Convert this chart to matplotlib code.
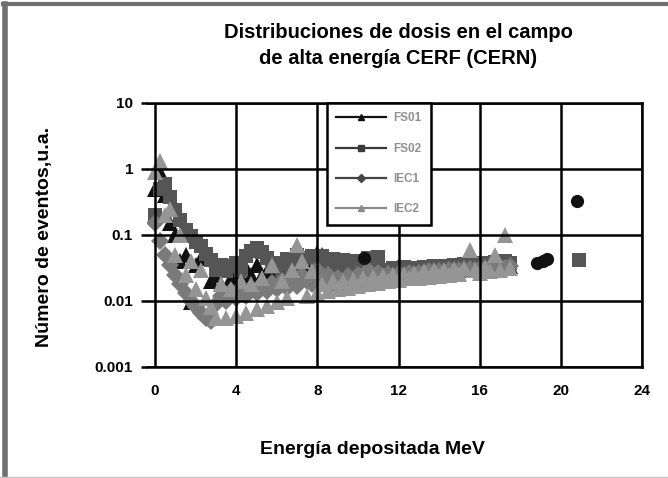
import matplotlib
matplotlib.use('Agg')
import matplotlib.pyplot as plt
from matplotlib.lines import Line2D

# Energía (MeV), común a las cuatro series; 4 valores por fila (n, n+.25, n+.5, n+.75)
energia = [0, 0.25, 0.5, 0.75, 1, 1.25, 1.5, 1.75, 2, 2.25, 2.5, 2.75, 3, 3.25, 3.5, 3.75,
           4, 4.25, 4.5, 4.75, 5, 5.25, 5.5, 5.75, 6, 6.25, 6.5, 6.75, 7, 7.25, 7.5, 7.75,
           8, 8.25, 8.5, 8.75, 9, 9.25, 9.5, 9.75, 10, 10.25, 10.5, 10.75, 11, 11.25, 11.5, 11.75,
           12, 12.25, 12.5, 12.75, 13, 13.25, 13.5, 13.75, 14, 14.25, 14.5, 14.75, 15, 15.25, 15.5, 15.75,
           16, 16.25, 16.5, 16.75, 17, 17.25, 17.5]

fs01 = [0.5, 0.9, 0.4, 0.15,
        0.1, 0.04, 0.05, 0.0095,
        0.035, 0.045, 0.058, 0.02,
        0.025, 0.018, 0.03, 0.022,
        0.028, 0.022, 0.032, 0.025,
        0.035, 0.025, 0.028, 0.022,
        0.025, 0.03, 0.028, 0.024,
        0.035, 0.03, 0.035, 0.045,
        0.054, 0.05, 0.03, 0.028,
        0.025, 0.03, 0.026, 0.028,
        0.025, 0.027, 0.026, 0.028,
        0.027, 0.026, 0.027, 0.028,
        0.027, 0.028, 0.027, 0.029,
        0.028, 0.029, 0.03, 0.029,
        0.03, 0.031, 0.03, 0.031,
        0.032, 0.031, 0.032, 0.033,
        0.032, 0.033, 0.034, 0.033,
        0.034, 0.035, 0.034]

fs02 = [0.2, 0.5, 0.6, 0.38,
        0.24, 0.17, 0.12, 0.095,
        0.078, 0.068, 0.052, 0.042,
        0.03, 0.035, 0.028, 0.034,
        0.037, 0.03, 0.048, 0.058,
        0.063, 0.055, 0.045, 0.033,
        0.038, 0.03, 0.043, 0.035,
        0.05, 0.04, 0.045, 0.048,
        0.04, 0.048, 0.035, 0.043,
        0.032, 0.042, 0.03, 0.041,
        0.03, 0.035, 0.045, 0.03,
        0.047, 0.03, 0.028, 0.032,
        0.026, 0.033, 0.027, 0.032,
        0.028, 0.033, 0.029, 0.034,
        0.03, 0.034, 0.031, 0.035,
        0.032, 0.036, 0.033, 0.037,
        0.034, 0.038, 0.035, 0.039,
        0.036, 0.04, 0.038]

iec1 = [0.15, 0.08, 0.05, 0.035,
        0.025, 0.018, 0.013, 0.01,
        0.008, 0.0065, 0.0055, 0.005,
        0.009, 0.012, 0.01, 0.014,
        0.011, 0.015, 0.012, 0.016,
        0.013, 0.018, 0.014, 0.019,
        0.015, 0.02, 0.016, 0.021,
        0.017, 0.025, 0.02, 0.018,
        0.03, 0.02, 0.025, 0.019,
        0.022, 0.019, 0.024, 0.02,
        0.025, 0.021, 0.03, 0.022,
        0.027, 0.023, 0.026, 0.024,
        0.026, 0.024, 0.027, 0.025,
        0.027, 0.025, 0.028, 0.026,
        0.028, 0.027, 0.029, 0.028,
        0.03, 0.028, 0.031, 0.029,
        0.031, 0.03, 0.032, 0.031,
        0.033, 0.032, 0.034]

iec2 = [0.9, 1.3, 0.2, 0.25,
        0.05, 0.1, 0.025, 0.04,
        0.015, 0.03, 0.011, 0.008,
        0.0055, 0.018, 0.0055, 0.015,
        0.006, 0.02, 0.0065, 0.018,
        0.0075, 0.022, 0.0085, 0.035,
        0.0095, 0.02, 0.011, 0.03,
        0.07, 0.04, 0.012, 0.028,
        0.013, 0.018, 0.014, 0.02,
        0.015, 0.02, 0.016, 0.021,
        0.017, 0.022, 0.018, 0.023,
        0.019, 0.024, 0.02, 0.025,
        0.021, 0.026, 0.022, 0.027,
        0.022, 0.028, 0.023, 0.029,
        0.024, 0.03, 0.025, 0.031,
        0.026, 0.032, 0.06, 0.03,
        0.027, 0.033, 0.028, 0.05,
        0.03, 0.1, 0.032]

# punto suelto de FS02 y círculos negros sueltos
fs02_extra_x = [20.9]
fs02_extra_y = [0.042]
circ_x = [10.3, 18.8, 19.1, 19.3, 20.8]
circ_y = [0.045, 0.038, 0.041, 0.043, 0.33]

etiquetas = ['FS01', 'FS02', 'IEC1', 'IEC2']
colores = ['#111111', '#555555', '#7a7a7a', '#959595']
marcadores = ['^', 's', 'D', '^']

xticks = [0, 4, 8, 12, 16, 20, 24]
yticks = [0.001, 0.01, 0.1, 1, 10]
ytick_labels = ['0.001', '0.01', '0.1', '1', '10']

plt.rcParams['font.family'] = ['Liberation Sans', 'DejaVu Sans']
plt.rcParams['font.weight'] = 'bold'

fig = plt.figure(figsize=(6.68, 4.78), dpi=100)
ax = fig.add_axes([147 / 668, 1 - 367 / 478, (642 - 147) / 668, (367 - 103) / 478])

series = [fs01, fs02, iec1, iec2]
tam = [11, 9.5, 9.5, 11]
for ys, c, m, s in zip(series, colores, marcadores, tam):
    ax.plot(energia, ys, linestyle='none', marker=m, markersize=s, color=c, markeredgewidth=0)
ax.plot(fs02_extra_x, fs02_extra_y, linestyle='none', marker='s', markersize=9.5, color='#555555',
        markeredgewidth=0)
ax.plot(circ_x, circ_y, linestyle='none', marker='o', markersize=9.5, color='#111111', markeredgewidth=0)

ax.set_yscale('log')
ax.set_xlim(-0.4, 24)
ax.set_ylim(0.001, 10)
ax.set_xticks(xticks)
ax.set_xticklabels([str(t) for t in xticks])
ax.set_yticks(yticks)
ax.set_yticklabels(ytick_labels)
ax.minorticks_off()
ax.tick_params(axis='x', length=0, pad=12, labelsize=11)
ax.tick_params(axis='y', length=4, width=1.8, pad=6, labelsize=11)
ax.grid(True, color='black', linewidth=1.8)
ax.set_axisbelow(False)
for lado in ['top', 'bottom', 'right']:
    ax.spines[lado].set_linewidth(1.8)
ax.spines['left'].set_visible(False)

# leyenda con línea + marcador pequeño
handles = [Line2D([], [], color=c, marker=m, markersize=4, linewidth=1.6)
           for c, m in zip(['#111111', '#3a3a3a', '#444444', '#8a8a8a'], marcadores)]
leg = ax.legend(handles, etiquetas, loc='upper left', bbox_to_anchor=((327 - 147) / 495, 1.0),
                borderaxespad=0, fontsize=8.5, labelspacing=1.55, handlelength=4.2,
                handletextpad=0.6, borderpad=0.8, fancybox=False, framealpha=1,
                edgecolor='black')
leg.get_frame().set_linewidth(1.8)
for t in leg.get_texts():
    t.set_color('#909090')

fig.text(398 / 668, 1 - 33 / 478, 'Distribuciones de dosis en el campo', ha='center', va='center',
         fontsize=14.5, fontweight='bold')
fig.text(398 / 668, 1 - 58 / 478, 'de alta energía CERF (CERN)', ha='center', va='center',
         fontsize=14.5, fontweight='bold')
fig.text(372 / 668, 1 - 450 / 478, 'Energía depositada MeV', ha='center', va='center',
         fontsize=14, fontweight='bold')
fig.text(45 / 668, 1 - 237 / 478, 'Número de eventos,u.a.', ha='center', va='center',
         rotation=90, fontsize=14, fontweight='bold')

# marco del recuadro
fig.add_artist(Line2D([5 / 668, 5 / 668], [0, 1 - 4 / 478], color='#707070', linewidth=4,
                      transform=fig.transFigure))
fig.add_artist(Line2D([3 / 668, 1], [1 - 4 / 478, 1 - 4 / 478], color='#707070', linewidth=3,
                      transform=fig.transFigure))
fig.add_artist(Line2D([0, 1], [1 / 478, 1 / 478], color='#c8c8c8', linewidth=1,
                      transform=fig.transFigure))

fig.savefig('out.png', dpi=100)
